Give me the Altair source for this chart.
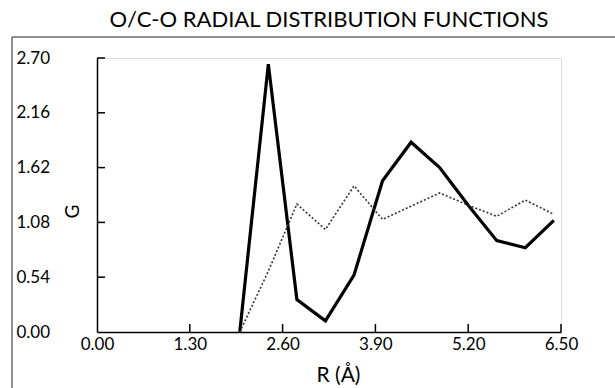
import altair as alt
import pandas as pd

# ---- data ----
r_values = [2.0, 2.4, 2.8, 3.2, 3.6, 4.0, 4.4, 4.8, 5.2, 5.6, 6.0, 6.4]
g_solid = [0.00, 2.64, 0.32, 0.11, 0.56, 1.49, 1.87, 1.62, 1.25, 0.90, 0.83, 1.10]
g_dotted = [0.00, 0.60, 1.26, 1.01, 1.44, 1.11, 1.24, 1.37, 1.25, 1.14, 1.30, 1.16]
x_tick_values = [0.00, 1.30, 2.60, 3.90, 5.20, 6.50]
y_tick_values = [0.00, 0.54, 1.08, 1.62, 2.16, 2.70]
title_text = "O/C-O RADIAL DISTRIBUTION FUNCTIONS"
x_title = "R (Å)"
y_title = "G"

FONT = "Lato"
W, H = 464, 274
PAD_L, PAD_T = 97, 58
PAD_R, PAD_B = 615 - 97 - W, 388 - 58 - H

solid_df = pd.DataFrame({"R": r_values, "G": g_solid})
dotted_df = pd.DataFrame({"R": r_values, "G": g_dotted})
xt_df = pd.DataFrame({"R": x_tick_values[1:]})
yt_df = pd.DataFrame({"G": y_tick_values[1:]})

xs = alt.Scale(domain=[0, 6.5], nice=False, zero=False)
ys = alt.Scale(domain=[0, 2.7], nice=False, zero=False)

x_axis = alt.Axis(values=x_tick_values, format=".2f", ticks=False, tickSize=0,
                  labelPadding=4, labelFlush=False, labelFontSize=17,
                  labelFont=FONT, labelColor="black", title=x_title,
                  titleFont=FONT, titleFontSize=21, titleFontWeight="normal",
                  titleX=241, titleY=43, titleAlign="center",
                  titleBaseline="middle", titleColor="black",
                  domainColor="black", domainWidth=1.5, grid=False)
y_axis = alt.Axis(values=y_tick_values, format=".2f", ticks=False, tickSize=0,
                  labelAlign="left", labelBaseline="middle", labelPadding=81,
                  labelFlush=False, labelFontSize=17, labelFont=FONT,
                  labelColor="black", title=y_title, titleFont=FONT,
                  titleFontSize=19, titleFontWeight="normal", titleX=-25,
                  titleY=153, titleAlign="center", titleBaseline="middle",
                  titleAngle=-90, titleColor="black",
                  domainColor="black", domainWidth=1.5, grid=False)

X = alt.X("R:Q", scale=xs, axis=x_axis)
Y = alt.Y("G:Q", scale=ys, axis=y_axis)

solid = alt.Chart(solid_df).mark_line(color="black", strokeWidth=3.2).encode(x=X, y=Y)
dotted = alt.Chart(dotted_df).mark_line(color="#333333", strokeWidth=1.6,
                                         strokeDash=[2, 2]).encode(x=X, y=Y)
xticks = alt.Chart(xt_df).mark_rule(color="black", strokeWidth=1.5).encode(
    x=X, y=alt.value(H), y2=alt.value(H - 8),
)
yticks = alt.Chart(yt_df).mark_rule(color="black", strokeWidth=1.5).encode(
    y=Y, x=alt.value(0), x2=alt.value(8),
)
frame_left = alt.Chart(pd.DataFrame({"a": [0]})).mark_rule(
    color="#222222", strokeWidth=1).encode(
    x=alt.value(12 - PAD_L), y=alt.value(37 - PAD_T), y2=alt.value(388 - PAD_T))
frame_top = alt.Chart(pd.DataFrame({"a": [0]})).mark_rule(
    color="#222222", strokeWidth=1).encode(
    x=alt.value(12 - PAD_L), x2=alt.value(615 - PAD_L), y=alt.value(37 - PAD_T))

chart = alt.layer(solid, dotted, xticks, yticks, frame_left, frame_top).properties(
    width=W, height=H,
    title=alt.TitleParams(title_text, font=FONT, fontSize=22, fontWeight="normal",
                          color="black", anchor="middle", frame="group", offset=5),
    padding={"left": PAD_L, "top": PAD_T, "right": PAD_R, "bottom": PAD_B},
    autosize=alt.AutoSizeParams(type="none"),
).configure_view(strokeOpacity=0).configure(background="white")

chart.save("out.html", embed_options={"renderer": "svg", "actions": False})
